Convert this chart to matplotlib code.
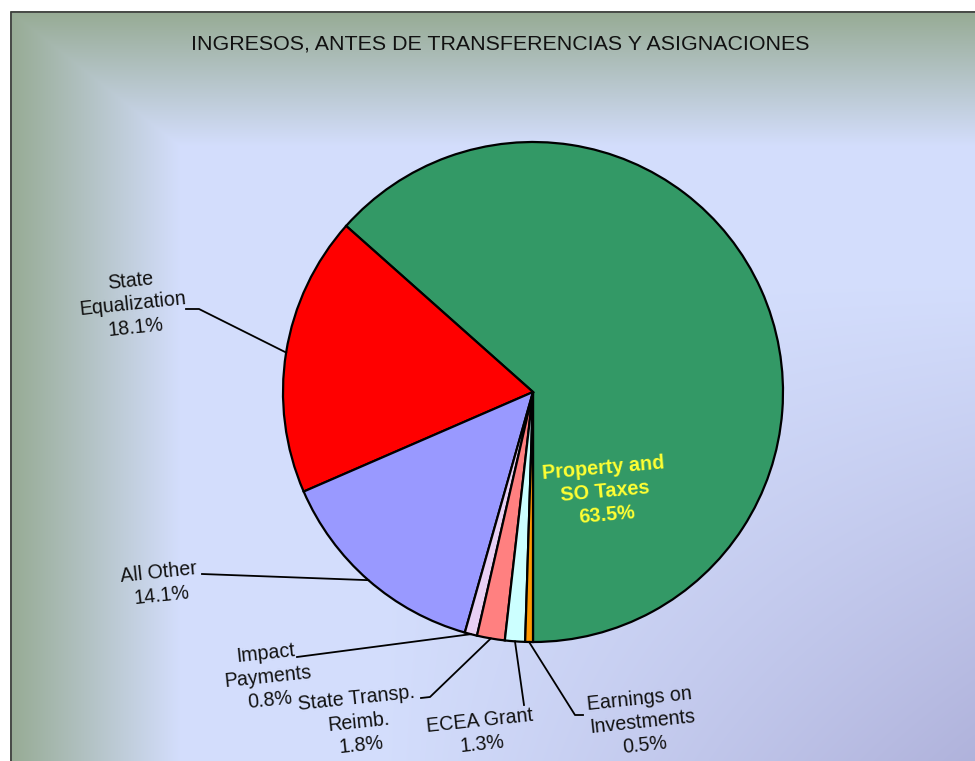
import numpy as np
import matplotlib
matplotlib.use("Agg")
import matplotlib.pyplot as plt

# datos del grafico
categories = ["Property and\nSO Taxes", "State\nEqualization", "All Other", "Impact\nPayments",
              "State Transp.\nReimb.", "ECEA Grant", "Earnings on\nInvestments"]
values = [63.5, 18.1, 14.1, 0.8, 1.8, 1.3, 0.5]
colors = ["#339966", "#FF0000", "#9999FF", "#E8D0F4", "#FF8080", "#CCFFFF", "#FF9900"]
title = "INGRESOS, ANTES DE TRANSFERENCIAS Y ASIGNACIONES"

W, H = 975, 761
plt.rcParams['font.family'] = ['Liberation Sans', 'DejaVu Sans']

fig = plt.figure(figsize=(W / 100, H / 100), dpi=100)
ax = fig.add_axes([0, 0, 1, 1])

# fondo degradado (coordenadas en pixeles)
xx, yy = np.meshgrid(np.arange(W), np.arange(H))
L = np.array([0.83, 0.87, 0.99])
G = np.array([0.59, 0.67, 0.58])
V = np.array([0.69, 0.70, 0.86])
wl = np.clip(1 - (xx - 10) / 170.0, 0, 1)
wt = np.clip(1 - (yy - 11) / 135.0, 0, 1)
g = np.maximum(wl, wt)[..., None]
v = (np.clip((xx - 380) / 595.0, 0, 1) * np.clip((yy - 280) / 481.0, 0, 1))[..., None]
img = L * (1 - v) + V * v
img = img * (1 - g) + G * g
img[(xx < 10) | (yy < 11)] = 1.0
ax.imshow(img, extent=(0, W, 0, H), origin="upper", zorder=0, interpolation="bilinear")
ax.plot([10.5, 10.5, W], [0, H - 11.5, H - 11.5], color="#3a3a3a", lw=1.2, zorder=1)

cx, cy, R = 533, H - 392, 250
wedges, _ = ax.pie(values, colors=colors, startangle=-90, counterclock=True,
                   center=(cx, cy), radius=R,
                   wedgeprops=dict(edgecolor="black", linewidth=1.6))
for w in wedges:
    w.set_zorder(2)

ax.set_xlim(0, W)
ax.set_ylim(0, H)
ax.set_aspect("equal")
ax.axis("off")

ax.text(500, H - 44, title, ha="center", va="center", fontsize=15.4, color="#111111")

# etiquetas y lineas guia (posiciones en pixeles desde arriba)
label_pos = {1: (133, 304), 2: (160, 584), 3: (268, 677), 4: (359, 722), 5: (481, 733), 6: (642, 722)}
leader_pts = {1: [(186, 309), (199, 309)], 2: [(202, 574)], 3: [(297, 657)],
              4: [(421, 698), (430, 697)], 5: [(524, 705)], 6: [(583, 715), (575, 715)]}

total = sum(values)
start = -90.0
for i, val in enumerate(values):
    span = 360.0 * val / total
    mid = np.deg2rad(start + span / 2)
    start += span
    if i == 0:
        continue
    ex, ey = cx + R * np.cos(mid), cy + R * np.sin(mid)
    pts = [(px, H - py) for px, py in leader_pts[i]] + [(ex, ey)]
    ax.plot([p[0] for p in pts], [p[1] for p in pts], color="black", lw=1.3, zorder=3)
    lx, ly = label_pos[i]
    ax.text(lx, H - ly, f"{categories[i]}\n{val:.1f}%", ha="center", va="center",
            fontsize=14.1, rotation=6, linespacing=1.3, color="#111111", zorder=4,
            rotation_mode="anchor")

ax.text(605, H - 492, f"{categories[0]}\n{values[0]:.1f}%", ha="center", va="center",
        fontsize=14.3, fontweight="bold", rotation=5, linespacing=1.3, color="#FFFF33",
        zorder=4, rotation_mode="anchor")

fig.savefig("out.png", dpi=100)
